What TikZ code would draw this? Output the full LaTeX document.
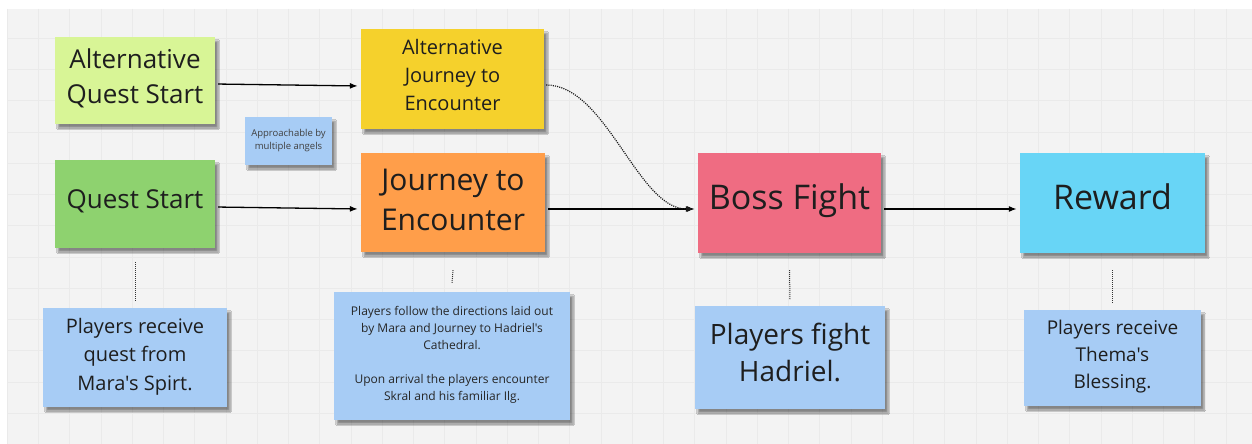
\documentclass[tikz,border=0pt]{standalone}
\usepackage{fontspec}
\newfontfamily\osf{Open Sans}
\usetikzlibrary{arrows.meta,shadows.blur}
\definecolor{bgc}{HTML}{F3F3F3}
\definecolor{gridc}{HTML}{EAEAEA}
\definecolor{txt}{HTML}{1E1E1E}
\definecolor{cAQS}{HTML}{D8F596}
\definecolor{cQS}{HTML}{8ED26F}
\definecolor{cAJE}{HTML}{F5D12C}
\definecolor{cJE}{HTML}{FF9E4A}
\definecolor{cBoss}{HTML}{EF6C82}
\definecolor{cRew}{HTML}{68D5F6}
\definecolor{cNote}{HTML}{A7CCF5}
\begin{document}
\begin{tikzpicture}[x=1pt,y=-1pt,
  sticky/.style={inner sep=2pt, align=center, text=txt,
    blur shadow={shadow xshift=3pt, shadow yshift=-4pt, shadow blur steps=6, shadow opacity=45}},
  arr/.style={line width=1.3pt, draw=black, -{Latex[length=8pt,width=6pt]}, shorten <=3pt, shorten >=3pt},
  dotarr/.style={line width=1.2pt, draw=black!90, dash pattern=on 1.1pt off 1.1pt, -{Latex[length=8pt,width=6pt]}, shorten >=4pt},
  dotl/.style={line width=1pt, draw=black!80, dash pattern=on 1pt off 1pt}
]
\useasboundingbox (0,0) rectangle (1252,444);
\fill[white] (0,0) rectangle (1252,444);
\fill[bgc] (7,9) rectangle (1252,444);
\foreach \i in {0,...,39} \draw[gridc, line width=0.5pt] ({7+31.25*\i},9) -- ({7+31.25*\i},444);
\foreach \j in {0,...,12} \draw[gridc, line width=0.5pt] (7,{38+31.25*\j}) -- (1252,{38+31.25*\j});

% main stickies
\node[sticky, fill=cAQS, minimum width=160pt, minimum height=87pt, text depth=9.4pt, font=\osf\fontsize{26}{35}\selectfont] (aqs) at (135,80.5) {Alternative\\Quest Start};
\node[sticky, fill=cQS, minimum width=160pt, minimum height=88pt, text depth=9.4pt, font=\osf\fontsize{26}{35}\selectfont] (qs) at (135,204) {Quest Start};
\node[sticky, fill=cNote, minimum width=87pt, minimum height=48pt, text depth=3.4pt, font=\osf\fontsize{9.5}{12.5}\selectfont, text=black!75] (appr) at (288.5,141) {Approachable by\\multiple angels};
\node[sticky, fill=cAJE, minimum width=183pt, minimum height=100pt, text depth=7.2pt, font=\osf\fontsize{20}{28}\selectfont] (aje) at (452.5,79) {Alternative\\Journey to\\Encounter};
\node[sticky, fill=cJE, minimum width=184pt, minimum height=99pt, text depth=4.5pt, font=\osf\fontsize{30}{40}\selectfont] (je) at (453,202.5) {Journey to\\Encounter};
\node[sticky, fill=cBoss, minimum width=183pt, minimum height=100pt, text depth=12.2pt, font=\osf\fontsize{34}{42}\selectfont] (boss) at (789.5,203) {Boss Fight};
\node[sticky, fill=cRew, minimum width=185pt, minimum height=100pt, text depth=12.2pt, font=\osf\fontsize{34}{42}\selectfont] (rew) at (1112.5,203) {Reward};

% description notes
\node[sticky, fill=cNote, minimum width=184pt, minimum height=99pt, text depth=7.2pt, font=\osf\fontsize{20}{28.5}\selectfont] (n1) at (135,357.5) {Players receive\\quest from\\Mara's Spirt.};
\node[sticky, fill=cNote, minimum width=236pt, minimum height=128pt, text depth=4.3pt, font=\osf\fontsize{12}{17}\selectfont, text=black!85] (n2) at (452,356) {Players follow the directions laid out\\by Mara and Journey to Hadriel's\\Cathedral.\\[17pt]Upon arrival the players encounter\\Skral and his familiar Ilg.};
\node[sticky, fill=cNote, minimum width=190pt, minimum height=103pt, text depth=10pt, font=\osf\fontsize{28}{37}\selectfont] (n3) at (790,357.5) {Players fight\\Hadriel.};
\node[sticky, fill=cNote, minimum width=177pt, minimum height=96pt, text depth=6.8pt, font=\osf\fontsize{19}{27}\selectfont] (n4) at (1112.5,358) {Players receive\\Thema's\\Blessing.};

% connectors
\draw[arr] ([yshift=-3.5pt]aqs.east) -- ([yshift=-7pt]aje.west);
\draw[arr] ([yshift=-3pt]qs.east) -- ([yshift=-6.5pt]je.west);
\draw[arr] ([yshift=-6.5pt]je.east) -- ([yshift=-6pt]boss.west);
\draw[arr] ([yshift=-6pt]boss.east) -- ([yshift=-6pt]rew.west);
\draw[dotarr] ([shift={(2pt,-6pt)}]aje.east) .. controls +(60,0) and +(-60,0) .. ([yshift=-6pt]boss.west);

\draw[dotl] ([yshift=-14pt]qs.south) -- ([yshift=6pt]n1.north);
\draw[dotl] ([yshift=-18pt]je.south) -- ([yshift=9pt]n2.north);
\draw[dotl] ([yshift=-17pt]boss.south) -- ([yshift=6pt]n3.north);
\draw[dotl] ([yshift=-17pt]rew.south) -- ([yshift=7pt]n4.north);
\end{tikzpicture}
\end{document}
